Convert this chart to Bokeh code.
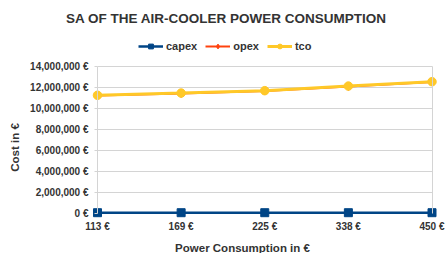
import math
from bokeh.plotting import figure
from bokeh.models import (Range1d, FixedTicker, SingleIntervalTicker, CustomJSTickFormatter,
                          Legend, LegendItem, Label, LinearAxis, Grid, ColumnDataSource)
from bokeh.embed import file_html
from bokeh.resources import INLINE

# ---- data ----
power_labels = ["113 €", "169 €", "225 €", "338 €", "450 €"]
capex = [30000, 30000, 30000, 30000, 30000]
opex = [11220000, 11430000, 11660000, 12100000, 12520000]
tco = [11250000, 11460000, 11690000, 12130000, 12550000]

title_text = "SA OF THE AIR-COOLER POWER CONSUMPTION"
x_title = "Power Consumption in €"
y_title = "Cost in €"
y_max = 14000000
y_step = 2000000

FONT = "Liberation Sans"
TXT = "#333333"
GRID = "#d4d4d4"

W, H = 447, 253
idx = list(range(len(power_labels)))
last = len(idx) - 1
src = ColumnDataSource(dict(x=idx, capex=capex, opex=opex, tco=tco))

# the frame covers the whole canvas; axes are pinned inside it
p = figure(width=W, height=H, output_backend="svg", toolbar_location=None, title=None,
           x_range=Range1d(-1.1600, last + 0.1853),
           y_range=Range1d(-3870000, 20307000),
           min_border_left=0, min_border_right=0, min_border_top=0, min_border_bottom=0)
p.background_fill_color = "white"
p.border_fill_color = "white"
p.outline_line_color = None

# x axis pinned at y = 0
p.xaxis.fixed_location = 0
p.xaxis.ticker = FixedTicker(ticks=idx)
p.xaxis.major_label_overrides = {i: lab for i, lab in zip(idx, power_labels)}
p.xaxis.major_tick_out = 0
p.xaxis.major_tick_in = 0
p.xaxis.minor_tick_out = 0
p.xaxis.minor_tick_in = 0
p.xaxis.major_label_standoff = 8
p.xaxis.axis_line_color = None

# y axis pinned at the first category
p.yaxis.fixed_location = 0
p.yaxis.ticker = SingleIntervalTicker(interval=y_step, num_minor_ticks=0)
p.yaxis.bounds = (0, y_max)
p.yaxis.formatter = CustomJSTickFormatter(code="return Math.round(tick).toLocaleString('en-US') + ' €';")
p.yaxis.major_tick_out = 3
p.yaxis.major_tick_in = 0
p.yaxis.minor_tick_out = 0
p.yaxis.minor_tick_in = 0
p.yaxis.major_tick_line_color = GRID
p.yaxis.major_label_standoff = 6
p.yaxis.axis_line_color = GRID

for ax in (p.xaxis, p.yaxis):
    ax.major_label_text_font = FONT
    ax.major_label_text_font_style = "bold"
    ax.major_label_text_font_size = "10px"
    ax.major_label_text_color = TXT

# right border as an unlabeled axis pinned at the last category
rax = LinearAxis(ticker=FixedTicker(ticks=[]), bounds=(0, y_max), axis_line_color=GRID,
                 major_tick_out=0, major_tick_in=0, minor_tick_out=0, minor_tick_in=0,
                 major_label_standoff=0, fixed_location=last)
p.add_layout(rax, "right")

p.xgrid.visible = False
if "cross_bounds" in Grid.properties():
    p.ygrid.cross_bounds = (0, last)
    p.ygrid.grid_line_color = GRID
    p.ygrid.grid_line_width = 1
else:
    p.ygrid.visible = False
    p.yaxis.level = "underlay"
    p.yaxis.major_tick_in = 335

# chart title, axis titles
p.add_layout(Label(x=226, y=H - 18, x_units="screen", y_units="screen", text=title_text,
                   text_align="center", text_baseline="middle", text_font=FONT,
                   text_font_style="bold", text_font_size="13.5px", text_color=TXT))
p.add_layout(Label(x=242, y=H - 247, x_units="screen", y_units="screen", text=x_title,
                   text_align="center", text_baseline="middle", text_font=FONT,
                   text_font_style="bold", text_font_size="11.5px", text_color=TXT))
p.add_layout(Label(x=14, y=H - 147, x_units="screen", y_units="screen", text=y_title,
                   angle=math.pi / 2, text_align="center", text_baseline="middle", text_font=FONT,
                   text_font_style="bold", text_font_size="11.5px", text_color=TXT))

# series
lc = p.line("x", "capex", source=src, line_color="#004586", line_width=2.5)
sc = p.scatter("x", "capex", source=src, marker="square", size=8, fill_color="#004586", line_color="#004586")
lo = p.line("x", "opex", source=src, line_color="#ff420e", line_width=2)
so = p.scatter("x", "opex", source=src, marker="diamond", size=8, fill_color="#ff420e", line_color="#ff420e")
lt = p.line("x", "tco", source=src, line_color="#ffc828", line_width=3)
st = p.scatter("x", "tco", source=src, marker="circle", size=8.5, fill_color="#ffc828", line_color="#ffc828")

legend = Legend(items=[LegendItem(label="capex", renderers=[lc, sc]),
                       LegendItem(label="opex", renderers=[lo, so]),
                       LegendItem(label="tco", renderers=[lt, st])],
                orientation="horizontal", location=(138, H - 52),
                padding=0, margin=0, spacing=8, label_standoff=3,
                glyph_width=25, glyph_height=12, label_height=12, label_width=0,
                background_fill_alpha=0, border_line_alpha=0,
                label_text_font=FONT, label_text_font_style="bold",
                label_text_font_size="11px", label_text_color=TXT)
p.add_layout(legend, "center")

open("out.html", "w").write(file_html(p, INLINE))
